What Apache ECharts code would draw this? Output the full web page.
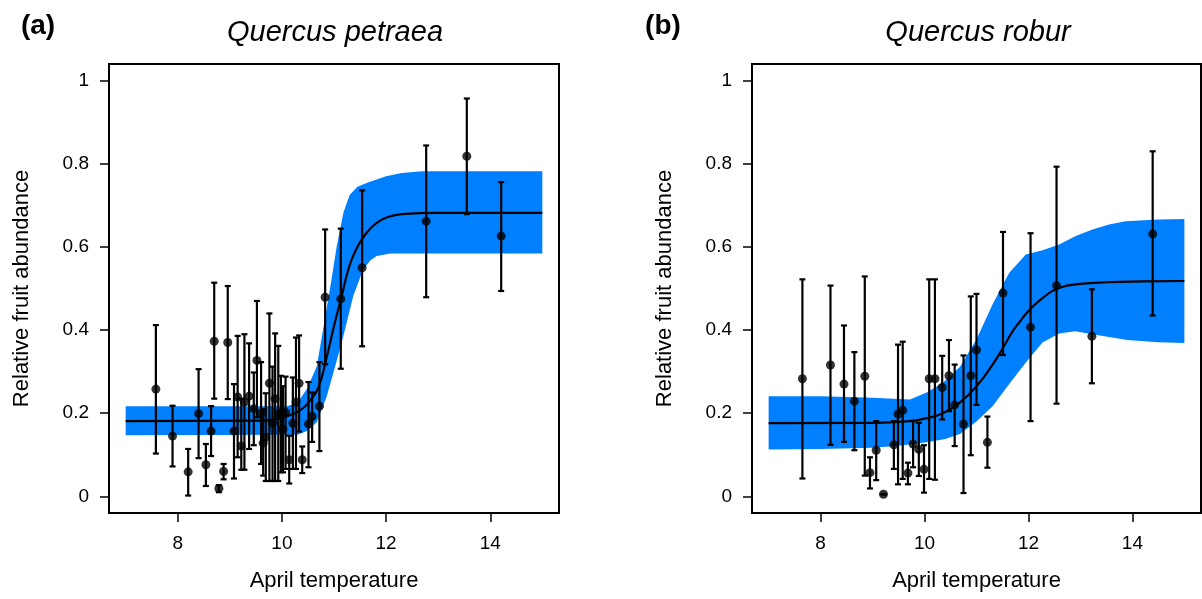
<!DOCTYPE html>
<html>
<head>
<meta charset="utf-8">
<script src="https://cdn.jsdelivr.net/npm/echarts@6/dist/echarts.min.js"></script>
<style>
html, body { margin: 0; padding: 0; background: #fff; }
#chart { width: 1202px; height: 599px; }
</style>
</head>
<body>
<div id="chart"></div>
<script>
// (a) Quercus petraea : 관측점 + 오차막대
var petTemp = [7.58, 7.90, 8.20, 8.40, 8.54, 8.64, 8.70, 8.79, 8.88, 8.96, 9.08, 9.15, 9.22, 9.28, 9.37, 9.46, 9.52, 9.60, 9.64, 9.69, 9.76, 9.82, 9.87, 9.93, 9.98, 10.02, 10.07, 10.14, 10.21, 10.27, 10.33, 10.39, 10.51, 10.58, 10.72, 10.83, 11.13, 11.54, 12.77, 13.55, 14.21];
var petVal  = [0.258, 0.145, 0.059, 0.199, 0.076, 0.157, 0.373, 0.019, 0.060, 0.370, 0.157, 0.239, 0.121, 0.227, 0.241, 0.211, 0.327, 0.200, 0.128, 0.142, 0.272, 0.176, 0.235, 0.198, 0.200, 0.162, 0.202, 0.088, 0.176, 0.227, 0.272, 0.088, 0.174, 0.192, 0.217, 0.479, 0.475, 0.550, 0.662, 0.818, 0.626];
var petLo   = [0.103, 0.072, 0.002, 0.092, 0.025, 0.097, 0.235, 0.010, 0.041, 0.234, 0.043, 0.094, 0.064, 0.064, 0.114, 0.123, 0.190, 0.078, 0.050, 0.037, 0.037, 0.037, 0.037, 0.037, 0.058, 0.058, 0.066, 0.031, 0.066, 0.066, 0.156, 0.056, 0.070, 0.131, 0.109, 0.318, 0.307, 0.361, 0.479, 0.679, 0.494];
var petHi   = [0.412, 0.218, 0.114, 0.306, 0.126, 0.217, 0.514, 0.027, 0.078, 0.506, 0.270, 0.386, 0.235, 0.390, 0.368, 0.298, 0.470, 0.323, 0.210, 0.248, 0.440, 0.312, 0.392, 0.362, 0.290, 0.265, 0.288, 0.146, 0.286, 0.382, 0.387, 0.120, 0.275, 0.250, 0.323, 0.642, 0.644, 0.736, 0.844, 0.957, 0.756];
// (a) 적합곡선 / 신뢰대
var petFitX = [7.0, 9.6, 9.9, 10.1, 10.35, 10.55, 10.7, 10.85, 11.0, 11.13, 11.3, 11.45, 11.6, 11.8, 12.0, 12.3, 13.0, 15.0];
var petFitY = [0.181, 0.182, 0.186, 0.193, 0.207, 0.232, 0.262, 0.330, 0.410, 0.473, 0.556, 0.600, 0.630, 0.656, 0.670, 0.679, 0.682, 0.682];
var petUpX = [7.0, 10.1, 10.3, 10.48, 10.67, 10.83, 10.95, 11.05, 11.18, 11.3, 11.45, 11.65, 12.0, 12.3, 12.7, 15.0];
var petUpY = [0.217, 0.217, 0.226, 0.258, 0.313, 0.430, 0.520, 0.600, 0.682, 0.725, 0.745, 0.755, 0.770, 0.778, 0.782, 0.782];
var petLoX = [7.0, 10.3, 10.48, 10.67, 10.86, 11.06, 11.18, 11.37, 11.56, 11.7, 11.82, 12.08, 15.0];
var petLoY = [0.147, 0.148, 0.157, 0.178, 0.240, 0.330, 0.386, 0.482, 0.546, 0.568, 0.578, 0.584, 0.584];

// (b) Quercus robur
var robTemp = [7.65, 8.19, 8.45, 8.65, 8.85, 8.95, 9.07, 9.21, 9.41, 9.49, 9.58, 9.68, 9.78, 9.89, 9.99, 10.09, 10.20, 10.34, 10.47, 10.58, 10.75, 10.89, 11.00, 11.21, 11.51, 12.04, 12.54, 13.22, 14.39];
var robVal  = [0.283, 0.316, 0.270, 0.229, 0.289, 0.057, 0.111, 0.005, 0.124, 0.198, 0.207, 0.056, 0.126, 0.113, 0.065, 0.283, 0.283, 0.262, 0.290, 0.220, 0.174, 0.290, 0.352, 0.130, 0.489, 0.407, 0.507, 0.385, 0.631];
var robLo   = [0.043, 0.124, 0.131, 0.111, 0.050, 0.019, 0.039, 0.005, 0.066, 0.029, 0.042, 0.029, 0.070, 0.049, 0.009, 0.042, 0.040, 0.185, 0.205, 0.121, 0.008, 0.099, 0.220, 0.069, 0.340, 0.181, 0.223, 0.272, 0.435];
var robHi   = [0.522, 0.507, 0.411, 0.347, 0.529, 0.094, 0.181, 0.005, 0.181, 0.365, 0.372, 0.081, 0.181, 0.177, 0.123, 0.522, 0.522, 0.338, 0.376, 0.317, 0.339, 0.481, 0.487, 0.192, 0.636, 0.633, 0.793, 0.498, 0.830];
var robFitX = [7.0, 9.0, 9.7, 10.0, 10.35, 10.7, 11.0, 11.3, 11.5, 11.7, 11.85, 12.0, 12.3, 12.6, 13.0, 13.5, 14.2, 15.0];
var robFitY = [0.176, 0.177, 0.181, 0.187, 0.200, 0.228, 0.265, 0.315, 0.355, 0.398, 0.423, 0.446, 0.480, 0.502, 0.511, 0.515, 0.517, 0.518];
var robUpX = [7.0, 8.0, 9.0, 9.5, 9.72, 10.04, 10.36, 10.68, 11.0, 11.31, 11.63, 11.95, 12.27, 12.59, 12.91, 13.23, 13.55, 13.87, 14.5, 15.0];
var robUpY = [0.241, 0.241, 0.237, 0.234, 0.233, 0.250, 0.274, 0.311, 0.378, 0.462, 0.538, 0.582, 0.592, 0.606, 0.626, 0.642, 0.654, 0.662, 0.666, 0.667];
var robLoX = [7.0, 8.0, 9.0, 9.5, 10.04, 10.4, 10.68, 11.0, 11.31, 11.63, 11.95, 12.27, 12.59, 12.9, 13.23, 13.9, 14.5, 15.0];
var robLoY = [0.113, 0.114, 0.117, 0.122, 0.130, 0.138, 0.150, 0.180, 0.217, 0.270, 0.322, 0.370, 0.392, 0.397, 0.390, 0.376, 0.371, 0.369];

// 축 눈금
var xTicks = [8, 10, 12, 14];
var yTicks = [0, 0.2, 0.4, 0.6, 0.8, 1];

var FONT = '"Liberation Sans", Arial, Helvetica, sans-serif';
var BAND = '#0080ff';

function zip(a, b) {
    return a.map(function (v, i) { return [v, b[i]]; });
}

// 신뢰대 다각형 (위쪽 → 아래쪽 역순)
function bandRender(upX, upY, loX, loY) {
    return function (params, api) {
        var pts = [];
        for (var i = 0; i < upX.length; i++) pts.push(api.coord([upX[i], upY[i]]));
        for (var j = loX.length - 1; j >= 0; j--) pts.push(api.coord([loX[j], loY[j]]));
        return { type: 'polygon', shape: { points: pts }, style: { fill: BAND } };
    };
}

// 오차막대
function errRender(params, api) {
    var x = api.value(0);
    var top = api.coord([x, api.value(2)]);
    var bot = api.coord([x, api.value(1)]);
    var w = 3;
    var st = { stroke: '#000', lineWidth: 2.2 };
    return {
        type: 'group',
        children: [
            { type: 'line', shape: { x1: top[0], y1: top[1], x2: bot[0], y2: bot[1] }, style: st },
            { type: 'line', shape: { x1: top[0] - w, y1: top[1], x2: top[0] + w, y2: top[1] }, style: st },
            { type: 'line', shape: { x1: bot[0] - w, y1: bot[1], x2: bot[0] + w, y2: bot[1] }, style: st }
        ]
    };
}

function makeX(idx) {
    return {
        gridIndex: idx, type: 'value', min: 6.68, max: 15.32, position: 'bottom',
        name: 'April temperature', nameLocation: 'middle', nameGap: 57,
        nameTextStyle: { fontSize: 22, color: '#000', fontFamily: FONT },
        axisLine: { show: false, onZero: false },
        splitLine: { show: false },
        axisTick: { show: true, length: 9, customValues: xTicks, lineStyle: { color: '#000', width: 1.5 } },
        axisLabel: { customValues: xTicks, fontSize: 19, color: '#000', fontFamily: FONT, margin: 21 }
    };
}

function makeY(idx) {
    return {
        gridIndex: idx, type: 'value', min: -0.04, max: 1.04, position: 'left',
        name: 'Relative fruit abundance', nameLocation: 'middle', nameGap: 76,
        nameTextStyle: { fontSize: 22, color: '#000', fontFamily: FONT },
        axisLine: { show: false, onZero: false },
        splitLine: { show: false },
        axisTick: { show: true, length: 9, customValues: yTicks, lineStyle: { color: '#000', width: 1.5 } },
        axisLabel: { customValues: yTicks, fontSize: 19, color: '#000', fontFamily: FONT, margin: 20 }
    };
}

function panelSeries(idx, temp, val, lo, hi, fitX, fitY, upX, upY, loX, loY) {
    return [
        {
            type: 'custom', xAxisIndex: idx, yAxisIndex: idx, z: 1,
            renderItem: bandRender(upX, upY, loX, loY),
            data: [[upX[0], upY[0]]], silent: true
        },
        {
            type: 'line', xAxisIndex: idx, yAxisIndex: idx, z: 2,
            data: zip(fitX, fitY), smooth: 0.5,
            showSymbol: false, lineStyle: { color: '#000', width: 2.2 }, silent: true
        },
        {
            type: 'custom', xAxisIndex: idx, yAxisIndex: idx, z: 3,
            renderItem: errRender,
            encode: { x: 0, y: [1, 2] },
            data: temp.map(function (t, i) { return [t, lo[i], hi[i]]; })
        },
        {
            type: 'scatter', xAxisIndex: idx, yAxisIndex: idx, z: 4,
            data: zip(temp, val), symbol: 'circle', symbolSize: 9,
            itemStyle: { color: '#000' }
        }
    ];
}

var chartDom = document.getElementById('chart');
var myChart = echarts.init(chartDom);

var option = {
    animation: false,
    backgroundColor: '#fff',
    grid: [
        { left: 109, top: 64, width: 450, height: 449, show: true, borderColor: '#000', borderWidth: 2, backgroundColor: 'transparent' },
        { left: 752, top: 64, width: 449, height: 449, show: true, borderColor: '#000', borderWidth: 2, backgroundColor: 'transparent' }
    ],
    xAxis: [makeX(0), makeX(1)],
    yAxis: [makeY(0), makeY(1)],
    graphic: [
        { type: 'text', x: 38, y: 26, style: { text: '(a)', font: 'bold 28px ' + FONT, fill: '#000', align: 'center', verticalAlign: 'middle', textAlign: 'center', textVerticalAlign: 'middle' } },
        { type: 'text', x: 335, y: 33, style: { text: 'Quercus petraea', font: 'italic 29px ' + FONT, fill: '#000', align: 'center', verticalAlign: 'middle', textAlign: 'center', textVerticalAlign: 'middle' } },
        { type: 'text', x: 663, y: 26, style: { text: '(b)', font: 'bold 28px ' + FONT, fill: '#000', align: 'center', verticalAlign: 'middle', textAlign: 'center', textVerticalAlign: 'middle' } },
        { type: 'text', x: 978, y: 33, style: { text: 'Quercus robur', font: 'italic 29px ' + FONT, fill: '#000', align: 'center', verticalAlign: 'middle', textAlign: 'center', textVerticalAlign: 'middle' } }
    ],
    series: []
        .concat(panelSeries(0, petTemp, petVal, petLo, petHi, petFitX, petFitY, petUpX, petUpY, petLoX, petLoY))
        .concat(panelSeries(1, robTemp, robVal, robLo, robHi, robFitX, robFitY, robUpX, robUpY, robLoX, robLoY))
};

option && myChart.setOption(option);
</script>
</body>
</html>
